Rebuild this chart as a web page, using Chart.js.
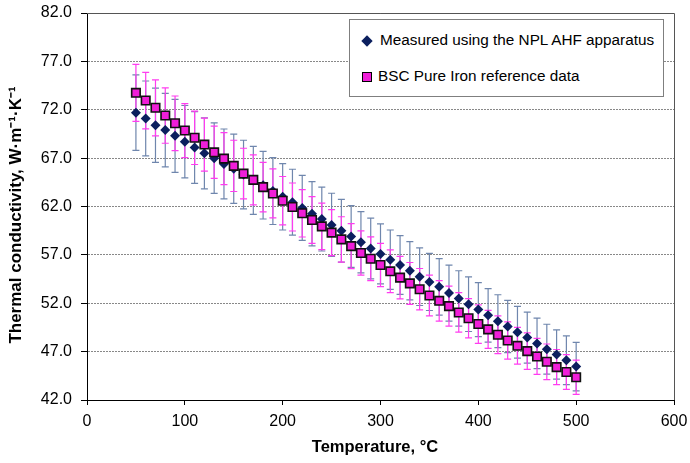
<!DOCTYPE html>
<html>
<head>
<meta charset="utf-8">
<script src="https://cdn.jsdelivr.net/npm/chart.js@4.4.0/dist/chart.umd.min.js"></script>
<style>
  body { margin: 0; background: #fff; }
  #wrap { position: relative; width: 690px; height: 463px; }
  #legend {
    position: absolute; left: 349px; top: 19px; width: 313px; height: 76px;
    border: 1px solid #7f7f7f; background: #fff;
    font-family: "Liberation Sans", Arial, sans-serif; font-size: 15.3px; color: #000;
  }
  .item { position: absolute; left: 10px; white-space: nowrap; }
  .mk { display: inline-block; vertical-align: middle; margin-right: 6px; }
  .dia { width: 8px; height: 8px; background: #0b1f5e; transform: rotate(45deg); margin-left: 3px; margin-right: 9px; }
  .sq { width: 8px; height: 8px; background: #f01ed8; border: 1.5px solid #000; margin-left: 2px; margin-right: 6px; }
</style>
</head>
<body>
<div id="wrap">
  <canvas id="kChart" width="690" height="463"></canvas>
  <div id="legend">
    <div class="item" style="top:11px"><span class="mk dia"></span>Measured using the NPL AHF apparatus</div>
    <div class="item" style="top:47px"><span class="mk sq"></span>BSC Pure Iron reference data</div>
  </div>
</div>
<script>
// temperatures, degC
var temps = [50,60,70,80,90,100,110,120,130,140,150,160,170,180,190,200,210,220,230,240,
  250,260,270,280,290,300,310,320,330,340,350,360,370,380,390,400,410,420,430,440,450,460,470,480,490,500];

// NPL AHF measurements
var measured = [71.7,71.1,70.4,69.9,69.3,68.7,68.1,67.5,67.0,66.4,65.9,65.3,64.7,64.2,63.6,63.0,
  62.45,61.85,61.25,60.7,60.1,59.5,58.9,58.3,57.65,57.1,56.5,55.95,55.35,54.75,54.2,53.7,53.05,
  52.5,51.9,51.35,50.75,50.15,49.6,49.0,48.45,47.85,47.25,46.7,46.1,45.45];
var measuredErr = [3.9,3.87,3.83,3.8,3.77,3.74,3.7,3.67,3.64,3.61,3.58,3.55,3.52,3.49,3.46,3.43,
  3.4,3.36,3.33,3.3,3.27,3.24,3.2,3.17,3.14,3.1,3.07,3.04,3.01,2.98,2.95,2.92,2.89,2.86,2.82,2.79,
  2.76,2.73,2.7,2.67,2.64,2.61,2.58,2.55,2.52,2.5];

// BSC reference data
var reference = [73.75,72.95,72.2,71.4,70.6,69.85,69.1,68.4,67.6,66.95,66.2,65.4,64.75,64.0,63.35,
  62.6,61.95,61.3,60.6,59.95,59.3,58.6,57.9,57.2,56.6,55.95,55.3,54.65,54.05,53.45,52.8,52.25,51.7,
  51.05,50.45,49.85,49.3,48.75,48.15,47.6,47.05,46.5,45.95,45.4,44.9,44.35];
var referenceErr = [2.95,2.92,2.89,2.86,2.82,2.79,2.76,2.74,2.7,2.68,2.65,2.62,2.59,2.56,2.53,2.5,
  2.48,2.45,2.42,2.4,2.37,2.34,2.32,2.29,2.26,2.24,2.21,2.19,2.16,2.14,2.11,2.09,2.07,2.04,2.02,
  1.99,1.97,1.95,1.93,1.9,1.88,1.86,1.84,1.82,1.8,1.77];

var yTicks = [42,47,52,57,62,67,72,77,82];
var xTitle = 'Temperature, °C';
var yTitle = 'Thermal conductivity, W·m⁻¹·K⁻¹';

function pts(ys) {
  var out = [];
  for (var i = 0; i < temps.length; i++) out.push({x: temps[i], y: ys[i]});
  return out;
}

// error bars under the markers, plot frame and axis titles on top
var extras = {
  id: 'extras',
  beforeDatasetsDraw: function(chart) {
    var c = chart.ctx, xs = chart.scales.x, ys = chart.scales.y;
    var sets = [[measured, measuredErr, '#6f86ad'], [reference, referenceErr, '#ff3cf0']];
    c.save();
    c.lineWidth = 1.2;
    sets.forEach(function(s) {
      c.strokeStyle = s[2];
      for (var i = 0; i < temps.length; i++) {
        var px = xs.getPixelForValue(temps[i]);
        var top = ys.getPixelForValue(s[0][i] + s[1][i]);
        var bot = ys.getPixelForValue(s[0][i] - s[1][i]);
        c.beginPath();
        c.moveTo(px, top); c.lineTo(px, bot);
        c.moveTo(px - 3.5, top); c.lineTo(px + 3.5, top);
        c.moveTo(px - 3.5, bot); c.lineTo(px + 3.5, bot);
        c.stroke();
      }
    });
    c.restore();
  },
  afterDraw: function(chart) {
    var a = chart.chartArea, c = chart.ctx;
    c.save();
    c.strokeStyle = '#555';
    c.lineWidth = 1;
    c.beginPath();
    c.moveTo(a.left, a.top + 0.5); c.lineTo(a.right + 0.5, a.top + 0.5); c.lineTo(a.right + 0.5, a.bottom);
    c.stroke();

    c.fillStyle = '#000';
    c.font = 'bold 16.5px "Liberation Sans", Arial, sans-serif';
    c.textAlign = 'center';
    c.textBaseline = 'middle';
    c.fillText(xTitle, 375, 447);
    c.font = 'bold 17px "Liberation Sans", Arial, sans-serif';
    c.translate(16, 215);
    c.rotate(-Math.PI / 2);
    c.fillText(yTitle, 0, 0);
    c.restore();
  }
};

var ctx = document.getElementById('kChart').getContext('2d');
Chart.defaults.font.family = '"Liberation Sans", Arial, sans-serif';
Chart.defaults.color = '#000';

var chart = new Chart(ctx, {
  type: 'scatter',
  data: {
    datasets: [{
      label: 'BSC Pure Iron reference data',
      data: pts(reference),
      pointStyle: 'rect',
      pointRadius: 6,
      backgroundColor: '#f01ed8',
      borderColor: '#111',
      borderWidth: 1.6,
      order: 0
    }, {
      label: 'Measured using the NPL AHF apparatus',
      data: pts(measured),
      pointStyle: 'rectRot',
      pointRadius: 5,
      backgroundColor: '#0b1f5e',
      borderColor: '#0b1f5e',
      borderWidth: 0,
      order: 1
    }]
  },
  options: {
    responsive: false,
    animation: false,
    layout: { padding: { top: 13, right: 16, left: 0, bottom: 0 } },
    plugins: { legend: { display: false }, tooltip: { enabled: false } },
    scales: {
      x: {
        type: 'linear', min: 0, max: 600,
        ticks: { stepSize: 100, font: { size: 16 }, padding: 7 },
        grid: { drawOnChartArea: false, tickLength: 5, tickColor: '#000' },
        border: { color: '#000', width: 1 },
        afterFit: function(s) { s.height = 63; s.paddingLeft = 0; s.paddingRight = 0; }
      },
      y: {
        type: 'linear', min: 42, max: 82,
        afterBuildTicks: function(s) { s.ticks = yTicks.map(function(v) { return {value: v}; }); },
        ticks: { font: { size: 16 }, padding: 9, callback: function(v) { return v.toFixed(1); } },
        grid: { color: '#888', tickLength: 6, tickColor: '#000', tickBorderDash: [] },
        border: { color: '#000', width: 1, dash: [2, 1] },
        afterFit: function(s) { s.width = 87; s.paddingTop = 0; s.paddingBottom = 0; }
      }
    }
  },
  plugins: [extras]
});
</script>
</body>
</html>
